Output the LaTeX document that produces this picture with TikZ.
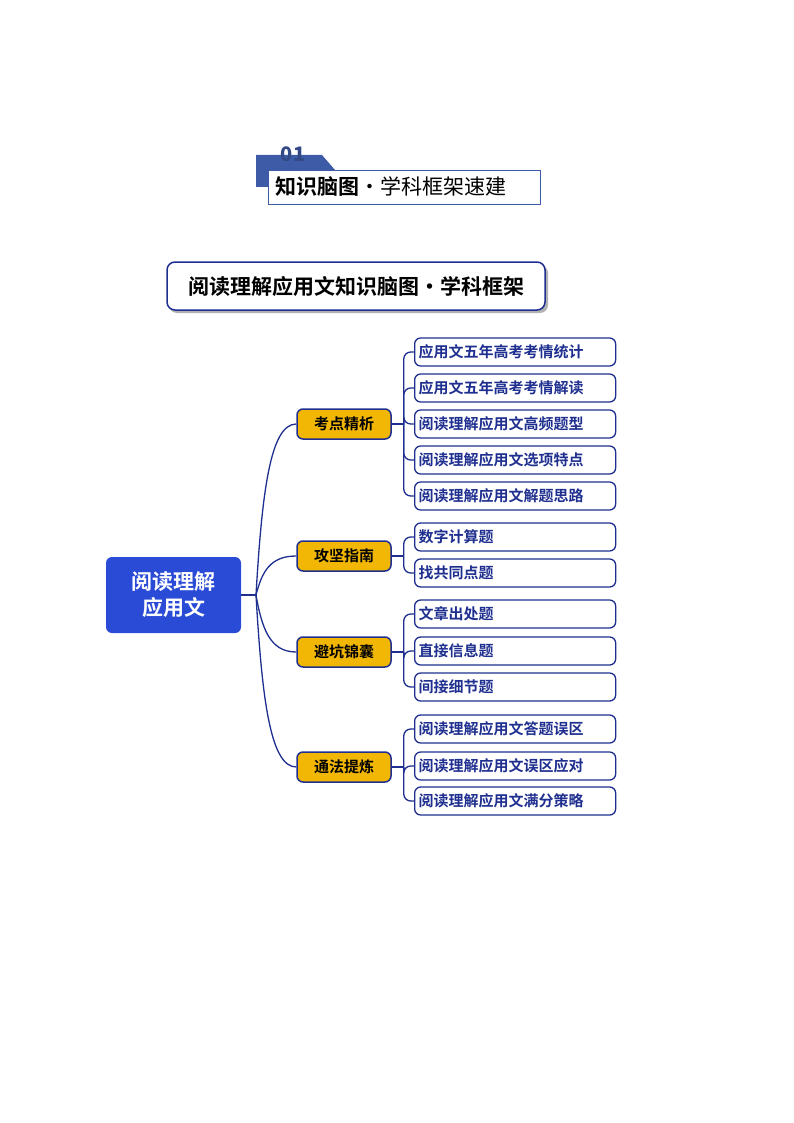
\documentclass[tikz,border=0pt]{standalone}
\usepackage{fontspec}
\setmainfont{Noto Sans CJK SC}
\newfontfamily\cjkb{Noto Sans CJK SC Bold}
\usetikzlibrary{calc}
\definecolor{navy}{HTML}{1F2F8F}
\definecolor{rootblue}{HTML}{2A4BD6}
\definecolor{gold}{HTML}{F2B705}
\definecolor{hdrblue}{HTML}{3E5BA8}
\begin{document}
\begin{tikzpicture}[x=1pt,y=-1pt,
  leaf/.style={draw=navy,line width=1.3pt,rounded corners=6pt,minimum width=201pt,minimum height=28pt,text width=193pt,align=left,inner sep=4pt,font=\cjkb\fontsize{15}{15}\selectfont,text=navy,anchor=west},
  mid/.style={draw=navy,line width=1.5pt,fill=gold,rounded corners=6pt,minimum width=94pt,minimum height=30pt,font=\cjkb\fontsize{15}{15}\selectfont,text=black},
  conn/.style={draw=navy,line width=1.3pt}]
\useasboundingbox (0,0) rectangle (794,1123);
% header
\fill[hdrblue] (256,155) -- (322,155) -- (335,170) -- (268,170) -- (268,187) -- (256,187) -- cycle;
\node[font=\bfseries\fontsize{20}{20}\selectfont,text=hdrblue!80!black] (num) at (293,154) {01};
\node[draw=hdrblue,line width=0.8pt,fill=white,minimum width=272pt,minimum height=34pt,anchor=north west,inner sep=0pt] (hdr) at (268,170) {};
\node[anchor=west,font=\fontsize{21}{21}\selectfont] (hdrt) at (272,187) {{\cjkb 知识脑图}·学科框架速建};
% title
\fill[gray!60,rounded corners=8pt] (169,265) rectangle (548,313);
\node[draw=navy,line width=1.5pt,fill=white,rounded corners=8pt,minimum width=378pt,minimum height=48pt,font=\cjkb\fontsize{21}{21}\selectfont] (title) at (356,286) {阅读理解应用文知识脑图·学科框架};
% root
\node[fill=rootblue,rounded corners=6pt,minimum width=135pt,minimum height=76pt,align=center,text=white,font=\cjkb\fontsize{21}{26}\selectfont] (root) at (173.5,595) {阅读理解\\应用文};
% mids
\node[mid] (m1) at (344,424) {考点精析};
\node[mid] (m2) at (344,556) {攻坚指南};
\node[mid] (m3) at (344,652) {避坑锦囊};
\node[mid] (m4) at (344,767) {通法提炼};
% leaves
\node[leaf] (a1) at (414,352) {应用文五年高考考情统计};
\node[leaf] (a2) at (414,388) {应用文五年高考考情解读};
\node[leaf] (a3) at (414,424) {阅读理解应用文高频题型};
\node[leaf] (a4) at (414,460) {阅读理解应用文选项特点};
\node[leaf] (a5) at (414,496) {阅读理解应用文解题思路};
\node[leaf] (b1) at (414,537) {数字计算题};
\node[leaf] (b2) at (414,573) {找共同点题};
\node[leaf] (c1) at (414,614) {文章出处题};
\node[leaf] (c2) at (414,651) {直接信息题};
\node[leaf] (c3) at (414,687) {间接细节题};
\node[leaf] (d1) at (414,729) {阅读理解应用文答题误区};
\node[leaf] (d2) at (414,766) {阅读理解应用文误区应对};
\node[leaf] (d3) at (414,801) {阅读理解应用文满分策略};
% root connectors
\coordinate (rj) at (256,595);
\draw[conn] (root.east) -- (rj);
\foreach \m in {m1,m2,m3,m4}{
  \draw[conn] (rj) .. controls ($(rj)!0.6!(rj|-\m.west)+(6,0)$) and ($(\m.west)+(-26,0)$) .. (\m.west);
}
% leaf connectors
\foreach \m/\ls in {m1/{a1,a2,a3,a4,a5},m2/{b1,b2},m3/{c1,c2,c3},m4/{d1,d2,d3}}{
  \coordinate (j) at ($(\m.east)+(12,0)$);
  \draw[conn] (\m.east) -- (j);
  \foreach \l in \ls {\draw[conn,rounded corners=7pt] (j) |- (\l.west);}
}
\end{tikzpicture}
\end{document}
